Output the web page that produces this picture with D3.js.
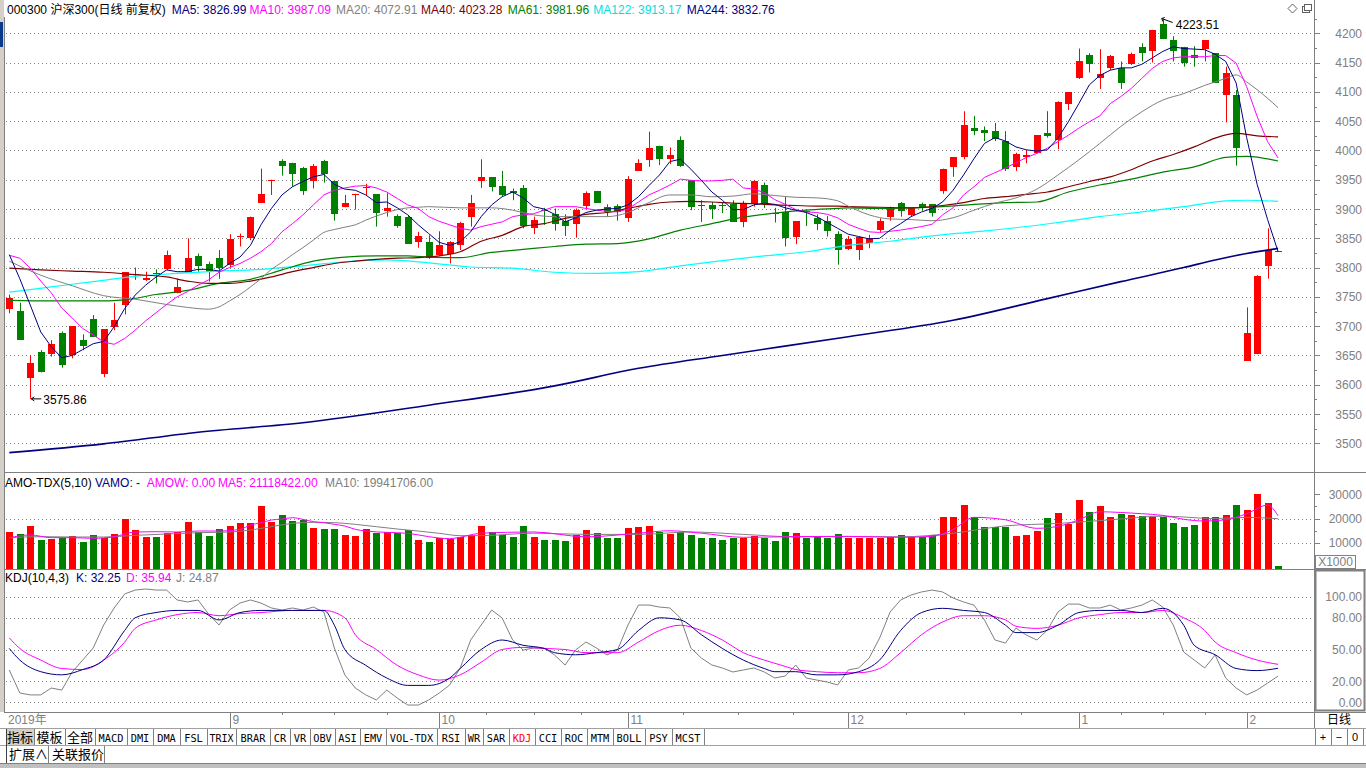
<!DOCTYPE html>
<html><head><meta charset="utf-8">
<script src="https://cdn.jsdelivr.net/npm/d3@7"></script>
<style>
html,body{margin:0;padding:0;background:#fff;overflow:hidden;}
svg{display:block;font-family:"Liberation Sans",Arial,"Noto Sans CJK SC",sans-serif;}
</style></head><body>
<svg id="c" width="1366" height="768"></svg>
<script>
// ---------------- DATA ----------------
const dates = [
 "2019-08-02","2019-08-05","2019-08-06","2019-08-07","2019-08-08","2019-08-09","2019-08-12","2019-08-13","2019-08-14","2019-08-15","2019-08-16","2019-08-19","2019-08-20","2019-08-21","2019-08-22","2019-08-23","2019-08-26","2019-08-27","2019-08-28","2019-08-29","2019-08-30",
 "2019-09-02","2019-09-03","2019-09-04","2019-09-05","2019-09-06","2019-09-09","2019-09-10","2019-09-11","2019-09-12","2019-09-16","2019-09-17","2019-09-18","2019-09-19","2019-09-20","2019-09-23","2019-09-24","2019-09-25","2019-09-26","2019-09-27","2019-09-30",
 "2019-10-08","2019-10-09","2019-10-10","2019-10-11","2019-10-14","2019-10-15","2019-10-16","2019-10-17","2019-10-18","2019-10-21","2019-10-22","2019-10-23","2019-10-24","2019-10-25","2019-10-28","2019-10-29","2019-10-30","2019-10-31",
 "2019-11-01","2019-11-04","2019-11-05","2019-11-06","2019-11-07","2019-11-08","2019-11-11","2019-11-12","2019-11-13","2019-11-14","2019-11-15","2019-11-18","2019-11-19","2019-11-20","2019-11-21","2019-11-22","2019-11-25","2019-11-26","2019-11-27","2019-11-28","2019-11-29",
 "2019-12-02","2019-12-03","2019-12-04","2019-12-05","2019-12-06","2019-12-09","2019-12-10","2019-12-11","2019-12-12","2019-12-13","2019-12-16","2019-12-17","2019-12-18","2019-12-19","2019-12-20","2019-12-23","2019-12-24","2019-12-25","2019-12-26","2019-12-27","2019-12-30","2019-12-31",
 "2020-01-02","2020-01-03","2020-01-06","2020-01-07","2020-01-08","2020-01-09","2020-01-10","2020-01-13","2020-01-14","2020-01-15","2020-01-16","2020-01-17","2020-01-20","2020-01-21","2020-01-22","2020-01-23",
 "2020-02-03","2020-02-04","2020-02-05","2020-02-06"];

const opens = [3730,3726,3611,3656,3653,3689,3650,3676,3712,3619, 3699,3736,3788,3779,3791,3797,3757,3793,3820,3806,
 3817,3804,3853,3850,3911,3949,3982,3979,3970,3947, 3982,3948,3904,3924,3936,3925,3897,3888,3886,3844,
 3843,3821,3824,3838,3887,3947,3954,3939,3930,3936, 3867,3898,3892,3879,3874,3906,3931,3904,3906,3885,
 3965,3984,4008,3985,4018,3949,3907,3907,3907,3908, 3877,3908,3941,3894,3895,3853,3897,3885,3879,3857,
 3832,3830,3842,3864,3887,3910,3890,3908,3908,3930, 3972,3989,4039,4035,4033,4016,3972,3989,3995,4030,
 4017,4080,4123,4163,4123,4140,4140,4147,4177,4170, 4216,4189,4176,4163,4173,4166,4095,4095,3641,3652,
 3803,3828];
const highs = [3754,3740,3650,3659,3676,3691,3700,3686,3719,3695, 3740,3792,3800,3793,3797,3829,3781,3850,3824,3810,
 3830,3857,3858,3887,3969,3950,3985,3979,3972,3977, 3984,3948,3924,3926,3943,3925,3927,3891,3890,3861,
 3855,3862,3845,3878,3924,3985,3954,3965,3935,3941, 3887,3902,3901,3891,3901,3930,3931,3908,3908,3956,
 3985,4032,4008,4005,4024,3949,3915,3912,3912,3915, 3914,3949,3945,3902,3921,3879,3898,3891,3888,3862,
 3854,3853,3856,3884,3904,3912,3902,3911,3908,3969, 3988,4067,4059,4041,4047,4033,3996,4001,4026,4067,
 4084,4099,4174,4166,4173,4163,4152,4167,4183,4206, 4223.51,4195,4177,4178,4188,4166,4143,4103,3732,3787,
 3867,3828];
const lows = [3722,3677,3575.86,3621,3648,3629,3645,3659,3682,3613, 3693,3720,3779,3777,3773,3796,3756,3793,3793,3776,
 3781,3800,3836,3847,3910,3924,3957,3938,3924,3935, 3945,3880,3903,3899,3924,3870,3887,3868,3841,3834,
 3815,3820,3807,3830,3870,3936,3930,3921,3915,3867, 3857,3873,3863,3854,3851,3901,3911,3887,3880,3878,
 3965,3972,3975,3977,3972,3898,3878,3883,3893,3878, 3869,3904,3902,3877,3836,3840,3871,3864,3853,3805,
 3830,3813,3833,3861,3880,3887,3887,3897,3887,3926, 3955,3985,4026,4016,4016,3965,3965,3978,3995,4022,
 4002,4069,4122,4133,4105,4137,4105,4146,4152,4150, 4190,4152,4143,4143,4152,4115,4048,3974,3641,3652,
 3781,3828];
const closes = [3748,3677,3637,3622,3669,3633,3700,3666,3682,3695, 3710,3792,3789,3782,3789,3821,3767,3817,3803,3793,
 3800,3849,3854,3887,3925,3950,3974,3959,3931,3973, 3959,3891,3910,3926,3937,3893,3902,3871,3841,3854,
 3816,3838,3843,3876,3911,3954,3938,3924,3927,3871, 3881,3897,3874,3871,3898,3927,3911,3895,3895,3952,
 3979,4004,3985,3992,3973,3903,3906,3900,3905,3878, 3908,3948,3910,3891,3851,3879,3895,3875,3862,3830,
 3849,3853,3851,3879,3904,3897,3902,3904,3893,3968, 3988,4043,4034,4029,4020,3968,3994,3992,4026,4024,
 4083,4099,4153,4147,4130,4161,4115,4164,4166,4206, 4190,4169,4150,4157,4188,4115,4132,4005,3688,3785,
 3830,3828];

// turnover (x1000)
const amount = [14620,13800,16960,11340,11750,12030,12730,10510,13260,11910, 13800,19960,15320,12440,12440,14210,14500,18600,14370,12850,
 15730,17080,18320,18070,25300,18480,21600,19010,19420,16140, 15730,15730,13260,12850,15730,14210,14500,14210,15320,11210,
 10390,12160,11750,12440,13270,16960,14500,13270,12440,16960, 12440,11210,11210,10800,13270,15320,14090,12030,12030,16140,
 16550,16960,14500,13680,14500,13270,12030,12030,11210,12030, 12030,12850,12030,10800,14500,14090,12030,12850,12030,13680,
 12030,12030,12030,12030,12440,13270,12440,12440,13270,20660, 20660,25590,20660,16550,16550,16550,12850,13270,14910,20250,
 22300,17780,27650,22710,25180,20660,21890,21480,21070,20660, 20660,18190,16550,17370,20660,20660,21480,25590,23640,30210,
 26400,500];

// price moving averages
const ma5 = [3822,3781,3736,3690,3665,3646,3650,3660,3670,3674, 3699,3730,3753,3770,3784,3796,3793,3793,3797,3797,
 3794,3807,3818,3838,3873,3901,3924,3938,3947,3955, 3959,3942,3934,3932,3924,3911,3912,3902,3890,3873,
 3858,3843,3838,3844,3861,3887,3907,3921,3929,3919, 3904,3900,3891,3878,3885,3894,3898,3900,3901,3907,
 3921,3940,3958,3981,3985,3968,3949,3929,3915,3899, 3899,3907,3910,3908,3902,3898,3894,3887,3877,3867,
 3857,3853,3849,3850,3864,3875,3887,3895,3901,3912, 3932,3958,3986,4012,4022,4016,4006,4001,3999,4001,
 4021,4049,4080,4112,4128,4137,4141,4141,4147,4158, 4169,4177,4174,4173,4172,4164,4152,4115,4022,3942,
 3882,3826.99];
const ma10 = [3821,3816,3799,3777,3757,3731,3714,3696,3685,3673, 3669,3679,3693,3709,3723,3737,3750,3759,3770,3779,
 3792,3800,3807,3816,3827,3841,3861,3875,3890,3907, 3924,3932,3936,3939,3940,3936,3929,3918,3907,3901,
 3887,3879,3873,3867,3864,3870,3874,3878,3887,3890, 3892,3898,3904,3904,3904,3901,3898,3896,3895,3900,
 3912,3924,3932,3941,3951,3949,3948,3948,3949,3951, 3936,3934,3928,3916,3908,3899,3895,3894,3891,3885,
 3874,3867,3861,3860,3862,3864,3867,3870,3874,3890, 3902,3924,3938,3954,3962,3970,3979,3988,3995,4004,
 4015,4026,4038,4049,4059,4080,4092,4106,4123,4140, 4152,4158,4160,4160,4160,4162,4162,4149,4109,4058,
 4015,3987.09];
const ma20Idx = [0,3,6,9,12,15,17,19,20,21,22,23,24,25,26,27,28,29,30,31,32,33,34,35,36,37,38,39,40,43,46,48,50,52,55,57,59,61,63,65,67,69,71,73,75,77,79,80,82,84,86,88,90,92,94,96,98,100,102,104,106,108,110,112,114,116,117,118,120,121];
const ma20 = [3811,3787,3769,3752,3746,3737,3732,3729,3733,3743,3754,3767,3781,3797,3809,3822,3834,3847,3860,3865,3869,3873,3881,3888,3894,3899,3902,3903,3904,3902,3902,3898,3890,3887,3887,3887,3894,3911,3924,3924,3921,3922,3926,3923,3920,3919,3914,3905,3890,3883,3882,3880,3885,3898,3910,3919,3934,3958,3984,4012,4041,4066,4086,4097,4111,4123,4129,4117,4089,4072.91];
const ma40Idx = [0,3,6,9,12,15,17,19,21,23,25,27,29,31,33,35,37,39,41,43,45,47,49,51,53,55,57,59,61,63,65,67,69,71,73,75,77,79,80,83,86,89,91,93,95,97,99,101,103,105,107,109,111,113,115,117,119,121];
const ma40 = [3799,3796,3794,3792,3788,3784,3777,3773,3773,3777,3784,3793,3800,3807,3811,3814,3816,3817,3820,3827,3845,3855,3870,3875,3884,3891,3894,3901,3908,3912,3913,3912,3910,3909,3907,3906,3905,3905,3904,3903,3902,3906,3911,3918,3921,3925,3929,3938,3947,3955,3967,3982,3993,4006,4021,4029,4025,4023.28];
const ma61Idx = [0,4,8,11,14,17,20,23,26,29,32,35,38,40,43,46,49,52,55,58,61,64,67,70,73,76,79,80,83,86,89,92,95,98,101,104,107,110,113,116,118,121];
const ma61 = [3744,3743,3743,3745,3754,3761,3773,3780,3796,3811,3818,3820,3820,3818,3817,3826,3831,3836,3840,3841,3849,3864,3875,3886,3893,3898,3901,3902,3901,3902,3904,3908,3911,3912,3929,3941,3951,3963,3972,3988,3990,3981.96];
const ma122Idx = [0,4,8,12,16,20,24,28,32,36,40,44,48,52,56,60,64,68,72,76,80,84,88,92,96,100,104,108,112,116,118,121];
const ma122 = [3758,3767,3776,3785,3790,3794,3797,3803,3810,3813,3808,3801,3799,3792,3790,3793,3803,3812,3820,3827,3838,3845,3854,3861,3868,3877,3887,3895,3904,3914,3915,3913.17];
const ma244Idx = [0,9,18,28,40,52,60,68,80,90,99,106,112,115,118,121];
const ma244 = [3484,3499,3519,3535,3565,3598,3628,3650,3682,3710,3747,3776,3800,3813,3824,3832.76];

// turnover averages
const amoMa5Idx = [0,2,4,6,8,10,12,14,16,18,20,22,23,24,25,26,27,28,29,30,31,32,33,34,36,38,40,42,45,50,55,60,63,66,70,75,80,85,88,90,92,95,98,100,102,104,106,108,110,112,114,116,118,120,121];
const amoMa5 = [12160,13270,12160,12160,11880,12570,14480,14620,14480,14890,14890,15570,17350,18310,19400,19810,20360,19680,18720,18310,17630,16940,15570,14890,14340,13940,12570,11740,14000,14500,12500,14000,15000,14000,12300,12600,12700,12300,12700,15500,20500,19500,16000,16800,19500,22800,22500,22000,21300,19700,19000,19500,22000,25500,21118];
const amoMa10Idx = [0,3,6,9,12,15,18,21,23,25,27,29,31,33,35,37,39,41,43,45,50,55,60,65,70,75,80,85,90,95,100,105,110,115,118,121];
const amoMa10 = [12160,12570,12430,12430,13110,13660,14200,14480,15300,16670,18040,18450,18310,17630,16670,15710,14890,13940,12980,13000,14000,13500,13500,14500,13500,12500,12600,12500,14000,17000,18000,19500,21000,20000,20500,19942];

// KDJ(10,4,3)
const kIdx = [0,1,3,5,7,9,11,12,14,16,18,20,22,24,27,30,31,32,34,36,38,40,42,43,45,47,49,51,52,54,56,58,60,62,64,66,68,70,72,73,75,77,79,81,83,85,87,89,91,93,95,96,98,100,102,104,106,108,110,112,113,115,117,119,121];
const kVal = [51,40,29,26,31,40,68,80,85,87,87,78,85,87,87,87,73,50,35,23,16,16,23,32,50,59,54,51,47,45,47,50,68,80,78,64,51,40,32,29,29,26,26,29,40,68,85,89,87,85,73,66,66,73,85,87,87,85,89,73,54,45,32,30,32.25];
const dIdx = [0,1,3,5,7,9,11,12,14,16,18,20,22,24,27,30,32,33,35,37,39,41,43,45,47,49,51,53,55,56,58,60,62,64,66,68,70,72,74,75,77,79,81,83,85,87,89,91,93,95,96,98,100,102,104,106,108,110,112,114,115,117,119,121];
const dVal = [61,51,40,32,31,40,57,70,78,83,85,82,84,85,87,87,80,64,50,35,26,21,26,38,50,52,51,50,47,47,47,57,68,73,68,59,47,40,34,31,29,28,28,32,47,64,76,82,82,78,72,70,73,80,83,85,85,87,80,68,57,47,40,35.94];
const jVal = [30.6,8.8,7,7,13.5,11.6,28.7,40,51.4,73.2, 89.3,102.6,106.3,107.3,106.3,106.3,96.9,95,96.9,83.6,
 73.2,87.4,94,96.9,94,89.3,87.4,89.3,87.4,90.2, 85.5,51.4,25.9,13.5,7,2.2,11.6,4,-2.6,-2.6,
 2.2,8.8,16.4,32.5,59,73.2,87.4,79.8,59,49.5, 51.4,51.4,44.8,35.3,49.5,57.1,51.4,44.8,49.5,73.2,
 92.1,92.1,90.2,89.3,79.8,51.4,41.9,35.3,32.5,28.7, 30.6,32.5,28.7,23,24.9,35.3,23,21.1,19.2,16.4,
 30.6,32.5,41.9,60.9,85.5,96.9,101.6,104.5,106.3,104.5, 98.8,95,92,77.9,59,56.1,70.3,63.6,59,68.5,
 85.5,93,93,89.3,89.3,92,87.4,89.3,92,96.9, 90.2,73.2,47.6,40,32.5,44.8,23,13.5,7,11.6,
 18.2,24.87];

const priceTicks = [3500,3550,3600,3650,3700,3750,3800,3850,3900,3950,4000,4050,4100,4150,4200];
const amoTicks = [10000,20000,30000];
const kdjTicks = [0,20,50,80,100];
const monthLabels = ["2019年","9","10","11","12","1","2"];
const toolbarLabels = ["指标","模板","全部","MACD","DMI","DMA","FSL","TRIX","BRAR","CR","VR","OBV","ASI","EMV","VOL-TDX","RSI","WR","SAR","KDJ","CCI","ROC","MTM","BOLL","PSY","MCST"];

// ---------------- LAYOUT ----------------
const svg = d3.select("#c");
const RED="#FF0000", GREEN="#008000", GRID="#808080", AXT="#808080";
const PLOT_L=5, PLOT_R=1314;
const x = d3.scaleLinear().domain([0,121]).range([9.3, 9.3+121*10.486]);
const yP = d3.scaleLinear().domain([3500,4200]).range([443.3,33.3]);
const yV = d3.scaleLinear().domain([0,30000]).range([567.3,494.2]);
const yK = d3.scaleLinear().domain([0,100]).range([702.3,596.7]);
const px = v => Math.round(v)+0.5;

// left strip
svg.append("rect").attr("x",0).attr("y",0).attr("width",4).attr("height",712).attr("fill","#d4d0c8");
svg.append("rect").attr("x",0).attr("y",22).attr("width",3).attr("height",25).attr("fill","#0a3a8c");
svg.append("line").attr("x1",4.5).attr("x2",4.5).attr("y1",17).attr("y2",712).attr("stroke","#808080");

// panel separators
[[472.5],[569.5],[712.5]].forEach(([y])=>{
  svg.append("line").attr("x1",4).attr("x2",1366).attr("y1",y).attr("y2",y).attr("stroke","#808080");
});
svg.append("line").attr("x1",1314.5).attr("x2",1314.5).attr("y1",0).attr("y2",728).attr("stroke","#808080");

// grid helper
function dotted(g,y,x1,x2){ g.append("line").attr("x1",x1).attr("x2",x2).attr("y1",px(y)).attr("y2",px(y))
  .attr("stroke",GRID).attr("stroke-dasharray","1,3"); }

// price grid + axis
const gP = svg.append("g");
priceTicks.forEach(v=>{
  dotted(gP,yP(v),6,1311);
  gP.append("line").attr("x1",1315).attr("x2",1320).attr("y1",px(yP(v))).attr("y2",px(yP(v))).attr("stroke",AXT);
  gP.append("line").attr("x1",1315).attr("x2",1317).attr("y1",px(yP(v+25))).attr("y2",px(yP(v+25))).attr("stroke",AXT);
  gP.append("text").attr("x",1362).attr("y",yP(v)+4.5).attr("text-anchor","end").attr("font-size",12).attr("fill",AXT).text(v);
});

// volume grid + axis
const gV = svg.append("g");
[10000,20000].forEach(v=>dotted(gV,yV(v),6,1311));
amoTicks.forEach(v=>{
  gV.append("line").attr("x1",1315).attr("x2",1320).attr("y1",px(yV(v))).attr("y2",px(yV(v))).attr("stroke",AXT);
  gV.append("text").attr("x",1362).attr("y",yV(v)+4.5).attr("text-anchor","end").attr("font-size",12).attr("fill",AXT).text(v);
});
[15000,25000].forEach(v=>gV.append("line").attr("x1",1315).attr("x2",1317).attr("y1",px(yV(v))).attr("y2",px(yV(v))).attr("stroke",AXT));
gV.append("rect").attr("x",1315.5).attr("y",555.5).attr("width",40).attr("height",13).attr("fill","#fff").attr("stroke","#808080");
gV.append("text").attr("x",1335.5).attr("y",566).attr("text-anchor","middle").attr("font-size",12).attr("fill",AXT).text("X1000");

// KDJ grid + axis
const gK = svg.append("g");
kdjTicks.forEach(v=>{
  dotted(gK,yK(v),6,1311);
  gK.append("text").attr("x",1362).attr("y",yK(v)+4.5).attr("text-anchor","end").attr("font-size",12).attr("fill",AXT).text(v.toFixed(2));
});
gK.append("rect").attr("x",1315.5).attr("y",570.5).attr("width",49).attr("height",140).attr("fill","none").attr("stroke","#808080").attr("stroke-width",2);

// ---------------- CANDLES ----------------
const idx = d3.range(dates.length);
const gC = svg.append("g");
idx.forEach(i=>{
  const up = closes[i] >= opens[i];
  const col = (i===121) ? GREEN : (closes[i] > opens[i] ? RED : (closes[i] < opens[i] ? GREEN : RED));
  const cx = Math.round(x(i));
  gC.append("line").attr("x1",cx+0.5).attr("x2",cx+0.5).attr("y1",yP(highs[i])).attr("y2",yP(lows[i])).attr("stroke",col);
  const yt = Math.round(yP(Math.max(opens[i],closes[i])));
  const yb = Math.round(yP(Math.min(opens[i],closes[i])));
  gC.append("rect").attr("x",cx-3).attr("y",yt).attr("width",7).attr("height",Math.max(1,yb-yt)).attr("fill",col);
});

// MA lines
function drawLine(g, idxArr, vals, yS, color, w, curve){
  const pts = idxArr.map((k,j)=>[x(k), yS(vals[j])]);
  g.append("path").attr("d", d3.line().curve(curve||d3.curveLinear)(pts))
   .attr("fill","none").attr("stroke",color).attr("stroke-width",w||1);
}
const gM = svg.append("g");
drawLine(gM, ma244Idx, ma244, yP, "#000080", 1.6, d3.curveMonotoneX);
drawLine(gM, ma122Idx, ma122, yP, "#00FFFF", 1.2, d3.curveMonotoneX);
drawLine(gM, ma61Idx, ma61, yP, "#008000", 1.2, d3.curveMonotoneX);
drawLine(gM, ma40Idx, ma40, yP, "#800000", 1.2, d3.curveMonotoneX);
drawLine(gM, ma20Idx, ma20, yP, "#808080", 1, d3.curveMonotoneX);
drawLine(gM, idx, ma10, yP, "#FF00FF", 1);
drawLine(gM, idx, ma5, yP, "#000080", 1);

// extreme markers
const hiI = 110, loI = 2;
const gX = svg.append("g");
gX.append("path").attr("d",`M${x(hiI)-1},${yP(highs[hiI])-1} L${x(hiI)+10},${yP(highs[hiI])+3}`).attr("stroke","#000").attr("fill","none");
gX.append("path").attr("d",`M${x(hiI)-1},${yP(highs[hiI])-1} l3,-1 M${x(hiI)-1},${yP(highs[hiI])-1} l1,3`).attr("stroke","#000").attr("fill","none");
gX.append("text").attr("x",x(hiI)+13).attr("y",yP(highs[hiI])+9).attr("font-size",12).attr("fill","#000").text(highs[hiI].toFixed(2));
gX.append("path").attr("d",`M${x(loI)+1},${yP(lows[loI])} L${x(loI)+11},${yP(lows[loI])} M${x(loI)+1},${yP(lows[loI])} l3,-2 M${x(loI)+1},${yP(lows[loI])} l3,2`).attr("stroke","#000").attr("fill","none");
gX.append("text").attr("x",x(loI)+13).attr("y",yP(lows[loI])+5).attr("font-size",12).attr("fill","#000").text(lows[loI].toFixed(2));

// ---------------- TURNOVER ----------------
const gB = svg.append("g");
idx.forEach(i=>{
  const col = (i===121) ? GREEN : (closes[i] >= opens[i] ? RED : GREEN);
  const cx = Math.round(x(i));
  const yt = Math.round(yV(amount[i]));
  gB.append("rect").attr("x",cx-3).attr("y",yt).attr("width",7).attr("height",Math.max(1,569-yt)).attr("fill",col);
});
drawLine(gB, amoMa10Idx, amoMa10, yV, "#808080", 1, d3.curveMonotoneX);
drawLine(gB, amoMa5Idx, amoMa5, yV, "#FF00FF", 1, d3.curveMonotoneX);

// ---------------- KDJ ----------------
const gJ = svg.append("g");
drawLine(gJ, idx, jVal, yK, "#808080", 1);
drawLine(gJ, dIdx, dVal, yK, "#FF00FF", 1, d3.curveMonotoneX);
drawLine(gJ, kIdx, kVal, yK, "#000080", 1, d3.curveMonotoneX);

// ---------------- HEADERS ----------------
function header(y, items){
  items.forEach(([tx,xx,col])=>svg.append("text").attr("x",xx).attr("y",y).attr("font-size",12).attr("fill",col).text(tx));
}
header(13.5,[["000300 沪深300(日线 前复权)",7,"#000"],["MA5: 3826.99",171.7,"#000080"],["MA10: 3987.09",249.5,"#FF00FF"],
 ["MA20: 4072.91",336,"#808080"],["MA40: 4023.28",421,"#800000"],["MA61: 3981.96",507.7,"#008000"],
 ["MA122: 3913.17",593.3,"#00E0E0"],["MA244: 3832.76",686.7,"#000080"]]);
header(486.5,[["AMO-TDX(5,10)",5,"#000"],["VAMO: -",95,"#000080"],["AMOW: 0.00",146.7,"#FF00FF"],
 ["MA5: 21118422.00",218,"#FF00FF"],["MA10: 19941706.00",325,"#808080"]]);
header(582,[["KDJ(10,4,3)",5,"#000"],["K: 32.25",76,"#000080"],["D: 35.94",126,"#FF00FF"],["J: 24.87",176,"#808080"]]);

// top-right icons
svg.append("path").attr("d","M1292.5,4 L1297,8.5 L1292.5,13 L1288,8.5 Z").attr("fill","none").attr("stroke","#606060");
svg.append("rect").attr("x",1302.5).attr("y",6.5).attr("width",7).attr("height",6).attr("fill","none").attr("stroke","#606060");
svg.append("rect").attr("x",1304.5).attr("y",4.5).attr("width",7).attr("height",6).attr("fill","#fff").attr("stroke","#606060");

// ---------------- DATE STRIP ----------------
const gD = svg.append("g");
const monthStarts = [0];
idx.forEach(i=>{ if(i>0 && dates[i].slice(5,7)!==dates[i-1].slice(5,7)) monthStarts.push(i); });
gD.append("text").attr("x",8).attr("y",724).attr("font-size",12).attr("fill",AXT).text(monthLabels[0]);
monthStarts.forEach((s,k)=>{
  if(k===0) return;
  const xx = Math.round(x(s))+0.5;
  gD.append("line").attr("x1",xx).attr("x2",xx).attr("y1",712).attr("y2",728).attr("stroke",AXT);
  gD.append("text").attr("x",xx+2).attr("y",724).attr("font-size",12).attr("fill",AXT).text(monthLabels[k]);
});
for(let k=1;k<monthStarts.length-1;k++){
  const a=x(monthStarts[k]), b=x(monthStarts[k+1]);
  for(let q=1;q<4;q++){ const xx=Math.round(a+(b-a)*q/4)+0.5;
    gD.append("line").attr("x1",xx).attr("x2",xx).attr("y1",712).attr("y2",715).attr("stroke",AXT); }
}
gD.append("text").attr("x",1339).attr("y",724).attr("text-anchor","middle").attr("font-size",12).attr("font-family","Noto Sans CJK SC").attr("fill","#000").text("日线");

// ---------------- TOOLBAR ----------------
const tb = svg.append("g");
const tbX = [6,34,65,95,127,153,180,207,236,270,290,310,335,360,386,437,465,483,509,535,561,587,613,645,672,704];
tb.append("line").attr("x1",0).attr("x2",1366).attr("y1",728.5).attr("y2",728.5).attr("stroke","#a0a0a0");
tb.append("line").attr("x1",0).attr("x2",1366).attr("y1",745.5).attr("y2",745.5).attr("stroke","#a0a0a0");
tb.append("rect").attr("x",tbX[0]).attr("y",729).attr("width",tbX[1]-tbX[0]).attr("height",16).attr("fill","#d4d0c8");
toolbarLabels.forEach((t,k)=>{
  const a=tbX[k], b=tbX[k+1];
  tb.append("line").attr("x1",b+0.5).attr("x2",b+0.5).attr("y1",729).attr("y2",745).attr("stroke","#808080");
  const cjk = /[\u4e00-\u9fff]/.test(t);
  const tx = tb.append("text").attr("x",(a+b)/2).attr("y",741.5).attr("text-anchor","middle")
    .attr("font-size",cjk?13:11).attr("font-family",cjk?"Noto Sans CJK SC":"DejaVu Sans Mono")
    .attr("fill", t==="KDJ"?"#FF0000":"#000").text(t);
  if(!cjk) tx.attr("textLength",Math.min(b-a-5, t.length*6.2)).attr("lengthAdjust","spacingAndGlyphs");
});
tb.append("line").attr("x1",6.5).attr("x2",6.5).attr("y1",729).attr("y2",763).attr("stroke","#404040");
// right mini buttons
[1315,1331,1347,1363].forEach(v=>tb.append("line").attr("x1",v+0.5).attr("x2",v+0.5).attr("y1",729).attr("y2",745).attr("stroke","#808080"));
[["+",1323],["−",1339],["0",1355]].forEach(([t,xx])=>tb.append("text").attr("x",xx).attr("y",741).attr("text-anchor","middle").attr("font-size",11).attr("fill","#000").text(t));
tb.append("rect").attr("x",1315).attr("y",729).attr("width",51).attr("height",16).attr("fill","none");
// second row
[48,104].forEach(v=>tb.append("line").attr("x1",v+0.5).attr("x2",v+0.5).attr("y1",746).attr("y2",763).attr("stroke","#808080"));
tb.append("text").attr("x",9).attr("y",759).attr("font-size",13).attr("font-family","Noto Sans CJK SC").attr("fill","#000").text("扩展∧");
tb.append("text").attr("x",52).attr("y",759).attr("font-size",13).attr("font-family","Noto Sans CJK SC").attr("fill","#000").text("关联报价");
tb.append("line").attr("x1",0).attr("x2",1366).attr("y1",763.5).attr("y2",763.5).attr("stroke","#808080");
tb.append("rect").attr("x",0).attr("y",764).attr("width",1366).attr("height",4).attr("fill","#c0c0c0");
</script>
</body></html>
